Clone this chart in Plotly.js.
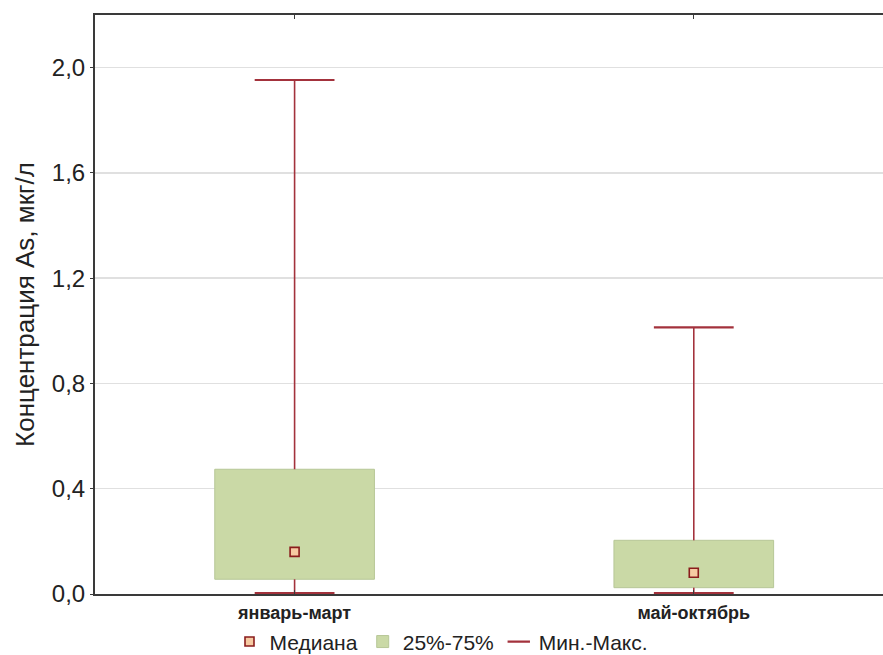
<!DOCTYPE html>
<html>
<head>
<meta charset="utf-8">
<script src="https://cdn.plot.ly/plotly-3.0.1.min.js"></script>
<style>html,body{margin:0;padding:0;background:#fff;overflow:hidden;}#chart{width:883px;height:655px;}</style>
</head>
<body>
<div id="chart"></div>
<script>
// Data
const categories = ["январь-март", "май-октябрь"];
const minVals    = [0.003, 0.003];
const q1Vals     = [0.056, 0.024];
const medianVals = [0.160, 0.081];
const q3Vals     = [0.474, 0.204];
const maxVals    = [1.953, 1.013];
const yTicks     = [0, 0.4, 0.8, 1.2, 1.6, 2.0];

const whiskerColor = "#a3323c";
const axisColor = "#3a3a3a";

// whisker segments (max -> Q3, Q1 -> min), gaps at null
const wx = [], wy = [];
categories.forEach((c, i) => {
  wx.push(c, c, null, c, c, null);
  wy.push(maxVals[i], q3Vals[i], null, q1Vals[i], minVals[i], null);
});
const capX = [], capY = [];
categories.forEach((c, i) => { capX.push(c, c); capY.push(maxVals[i], minVals[i]); });

const traces = [
  {
    type: "bar", name: "25%-75%", x: categories,
    base: q1Vals, y: q3Vals.map((v, i) => v - q1Vals[i]),
    width: 0.4,
    marker: {color: "#cad9a6", line: {color: "#b7c797", width: 1}},
    legendrank: 2, hoverinfo: "skip"
  },
  {
    type: "scatter", mode: "lines", x: wx, y: wy, showlegend: false,
    line: {color: whiskerColor, width: 1.6}, connectgaps: false, hoverinfo: "skip"
  },
  {
    type: "scatter", mode: "markers", name: "Мин.-Макс.", x: capX, y: capY,
    marker: {symbol: "line-ew", size: 57, color: whiskerColor, line: {color: whiskerColor, width: 2.2}},
    legendrank: 3, hoverinfo: "skip"
  },
  {
    type: "scatter", mode: "markers", name: "Медиана", x: categories, y: medianVals,
    marker: {symbol: "square", size: 9, color: "#f6caa2", line: {color: "#8a1c1c", width: 1.6}},
    legendrank: 1, hoverinfo: "skip"
  }
];

const layout = {
  width: 883, height: 655,
  margin: {l: 95, r: 0, t: 15, b: 61},
  paper_bgcolor: "#ffffff", plot_bgcolor: "#ffffff",
  separators: ", ",
  font: {family: "Liberation Sans, Arial, sans-serif", color: "#222"},
  showlegend: true,
  legend: {
    orientation: "h", xref: "container", yref: "container",
    x: 0.5, xanchor: "center", y: 0.02, yanchor: "middle",
    bgcolor: "rgba(0,0,0,0)",
    font: {size: 21, color: "#222"}, itemwidth: 30, tracegroupgap: 0
  },
  xaxis: {
    type: "category", range: [-0.5, 1.474],
    showline: true, linecolor: axisColor, linewidth: 2, mirror: "ticks",
    ticks: "inside", ticklen: 4, tickcolor: axisColor,
    showgrid: false, zeroline: false, ticklabelstandoff: 1,
    tickfont: {size: 18, color: "#222", weight: "bold"}
  },
  yaxis: {
    range: [0, 2.2], tickvals: yTicks, tickformat: ".1f",
    showline: true, linecolor: axisColor, linewidth: 2,
    ticks: "outside", ticklen: 3, tickcolor: axisColor,
    showgrid: true, gridcolor: "#e0e0e0", gridwidth: 1.5, zeroline: false,
    tickfont: {size: 24, color: "#222"},
    title: {text: "Концентрация As, мкг/л", font: {size: 26, color: "#222"}, standoff: 10}
  }
};

Plotly.newPlot("chart", traces, layout, {staticPlot: true, displayModeBar: false});
</script>
</body>
</html>
